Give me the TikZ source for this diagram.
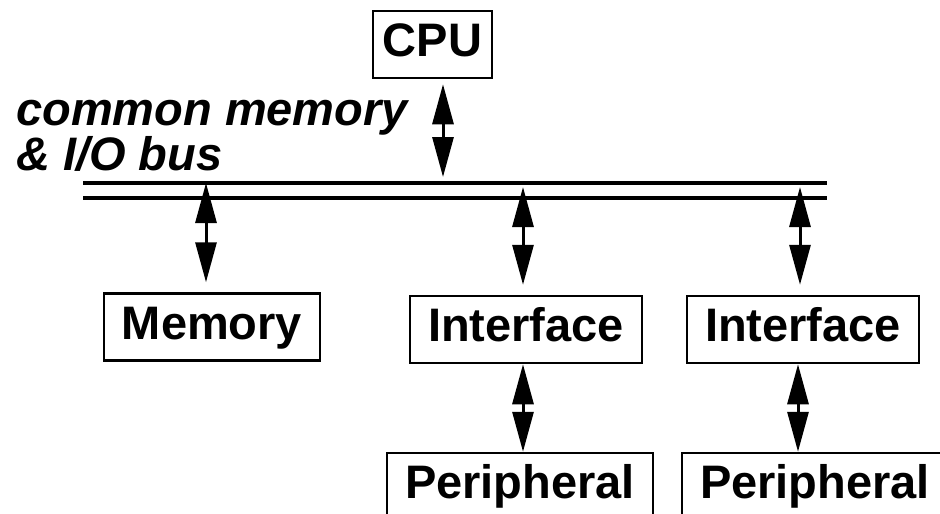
\documentclass[tikz,border=0pt]{standalone}
\usepackage{fontspec}
\setmainfont{Liberation Sans}
\usepackage{tikz}
\usetikzlibrary{arrows.meta,positioning}

\tikzset{
	unit/.style={draw, line width=2.5pt, font=\fontsize{47}{47}\selectfont\bfseries,
		inner xsep=18pt, inner ysep=11.5pt, text height=34pt, text depth=10pt},
	buslabel/.style={font=\fontsize{47}{47}\selectfont\bfseries\itshape, inner sep=0pt, anchor=base west},
	link/.style={{Triangle[length=40pt,width=21pt]}-{Triangle[length=40pt,width=21pt]}, line width=3pt},
	busline/.style={line width=4pt}
}

\begin{document}
\begin{tikzpicture}[x=1pt,y=-1pt]
	\clip (0,0) rectangle (940,514);
	\node[unit, inner xsep=10pt] (cpu) at (432.5,44.5) {CPU};
	\node[unit] (mem) at (212,327) {Memory};
	\node[unit] (if1) at (526,329.5) {Interface};
	\node[unit] (if2) at (803,329.5) {Interface};
	\node[unit] (per1) at (520,486.5) {Peripheral};
	\node[unit] (per2) at (815,486.5) {Peripheral};
	\node[buslabel] (lbl1) at (16,125) {common memory};
	\node[buslabel] (lbl2) at (16,170) {\& I/O bus};
	
	% bus
	\coordinate (busl) at (83,183);
	\coordinate (busr) at (827,183);
	\draw[busline] (busl) -- (busr);
	\draw[busline] ([yshift=-15pt]busl) -- ([yshift=-15pt]busr);
	
	\coordinate (cputap) at (443,177);
	\coordinate (memtap) at (206,183);
	\coordinate (if1tap) at (523,187);
	\coordinate (if2tap) at (800,187);
	
	\draw[link, shorten <=5pt] (cpu.south -| cputap) -- (cputap);
	\draw[link, shorten >=10pt] (memtap) -- (memtap |- mem.north);
	\draw[link, shorten >=10pt] (if1tap) -- (if1tap |- if1.north);
	\draw[link, shorten >=10pt] (if2tap) -- (if2tap |- if2.north);
	\draw[link] (if1.south -| if1tap) -- (per1.north -| if1tap);
	\draw[link] ([xshift=-2pt]if2.south -| if2tap) -- ([xshift=-2pt]per2.north -| if2tap);
\end{tikzpicture}
\end{document}
